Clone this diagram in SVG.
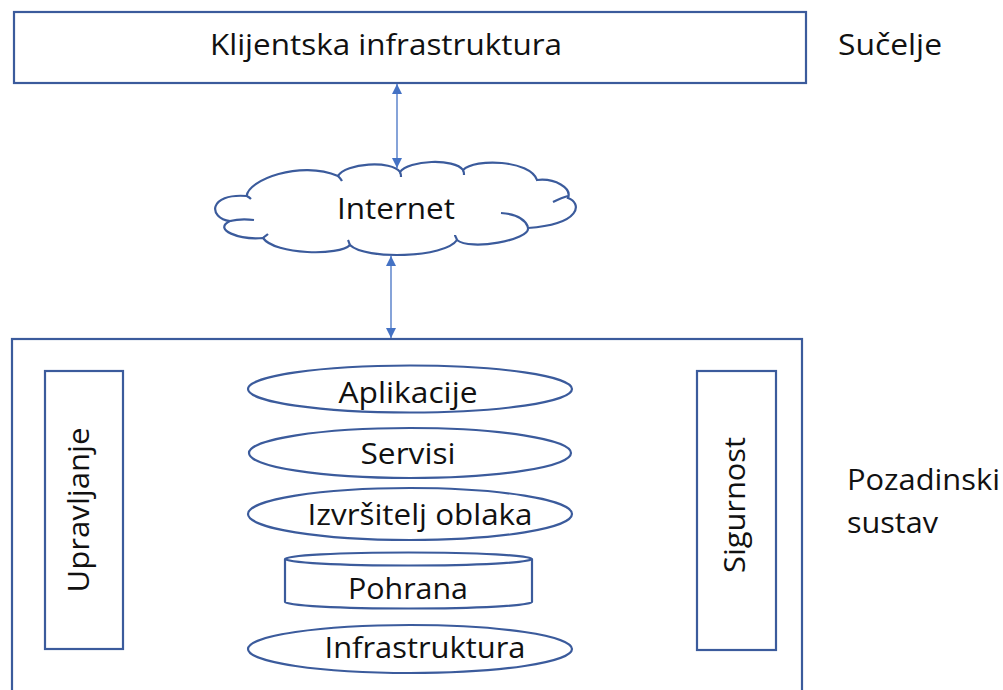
<svg xmlns="http://www.w3.org/2000/svg" width="1003" height="690" viewBox="0 0 1003 690">
<defs>
<style>
.box{fill:#fff;stroke:#3B5B9C;stroke-width:2.2}
.t{font-family:"Open Sans","Liberation Sans",sans-serif;font-size:30px;fill:#111}
.m{text-anchor:middle}
.conn{stroke:#4472C4;stroke-width:1.3;fill:none}
</style>
<marker id="ah" viewBox="0 0 10 10" refX="10" refY="5" markerWidth="10" markerHeight="10" markerUnits="userSpaceOnUse" orient="auto-start-reverse">
<path d="M0,0 L10,5 L0,10 z" fill="#4472C4"/>
</marker>
</defs>
<rect width="1003" height="690" fill="#fff"/>

<g id="klijent">
<rect class="box" x="14" y="12" width="792" height="71"/>
<text class="t m" x="386" y="55" textLength="352" lengthAdjust="spacingAndGlyphs">Klijentska infrastruktura</text>
</g>
<g id="sucelje"><text class="t" x="838" y="55" textLength="104" lengthAdjust="spacingAndGlyphs">Sučelje</text></g>

<g id="internet">
<path class="box" d="M246.7,196 C248,180 300,160 338,176 C345,163 392,160 400,172 C408,160 455,158 463,170 C475,158 530,160 537,180 C555,178 572,188 568,198 C582,203 582,224 528,228 C530,240 470,251 457,240 C445,258 365,260 350,245 C340,256 275,255 263,238 C240,240 212,230 230,221 C208,218 208,193 246.7,196 Z"/>
<path class="box" fill="none" d="M230,221 C238,219 246,219 254,220 M501,213 C515,214 525,219 528,227 M553,202 C559,199 564,197 568,196 M246.7,196 C249,197 250,198 251,199 M338,176 C340,178 341,179 342,181 M400,172 C401,174 401,175 401,177 M463,170 C464,172 464,173 464,175 M457,240 C456,237 455,236 455,235 M350,245 C349,243 349,242 348,240 M263,238 C265,236 267,235 268,234"/>
<text class="t m" x="396" y="219" textLength="118" lengthAdjust="spacingAndGlyphs">Internet</text>
</g>

<g id="connectors">
<line class="conn" x1="397" y1="84" x2="397" y2="168" marker-start="url(#ah)" marker-end="url(#ah)"/>
<line class="conn" x1="391" y1="256" x2="391" y2="338" marker-start="url(#ah)" marker-end="url(#ah)"/>
</g>

<g id="pozadina">
<rect class="box" x="12" y="339" width="790" height="360"/>
</g>
<g id="pozadinski-label">
<text class="t" x="847" y="490" textLength="153" lengthAdjust="spacingAndGlyphs">Pozadinski</text>
<text class="t" x="847" y="533" textLength="91" lengthAdjust="spacingAndGlyphs">sustav</text>
</g>

<g id="upravljanje">
<rect class="box" x="45" y="371" width="78" height="278"/>
<text class="t m" transform="translate(89,510) rotate(-90)" x="0" y="0" textLength="165" lengthAdjust="spacingAndGlyphs">Upravljanje</text>
</g>
<g id="sigurnost">
<rect class="box" x="697" y="371" width="79" height="279"/>
<text class="t m" transform="translate(745,505) rotate(-90)" x="0" y="0" textLength="136" lengthAdjust="spacingAndGlyphs">Sigurnost</text>
</g>

<g id="aplikacije">
<ellipse class="box" cx="410" cy="389" rx="162" ry="23.5"/>
<text class="t m" x="408" y="403" textLength="139" lengthAdjust="spacingAndGlyphs">Aplikacije</text>
</g>
<g id="servisi">
<ellipse class="box" cx="410" cy="453" rx="161" ry="25"/>
<text class="t m" x="408" y="464" textLength="95" lengthAdjust="spacingAndGlyphs">Servisi</text>
</g>
<g id="izvrsitelj">
<ellipse class="box" cx="410" cy="514" rx="162" ry="26"/>
<text class="t m" x="420" y="525" textLength="225" lengthAdjust="spacingAndGlyphs">Izvršitelj oblaka</text>
</g>
<g id="pohrana">
<path class="box" d="M285,559 L285,602 A123.5,6.5 0 0 0 532,602 L532,559 A123.5,6.5 0 0 0 285,559 Z"/>
<path class="box" fill="none" d="M285,559 A123.5,6.5 0 0 0 532,559"/>
<text class="t m" x="408" y="599" textLength="120" lengthAdjust="spacingAndGlyphs">Pohrana</text>
</g>
<g id="infrastruktura">
<ellipse class="box" cx="410" cy="649" rx="162" ry="24"/>
<text class="t m" x="425" y="658" textLength="201" lengthAdjust="spacingAndGlyphs">Infrastruktura</text>
</g>
</svg>
